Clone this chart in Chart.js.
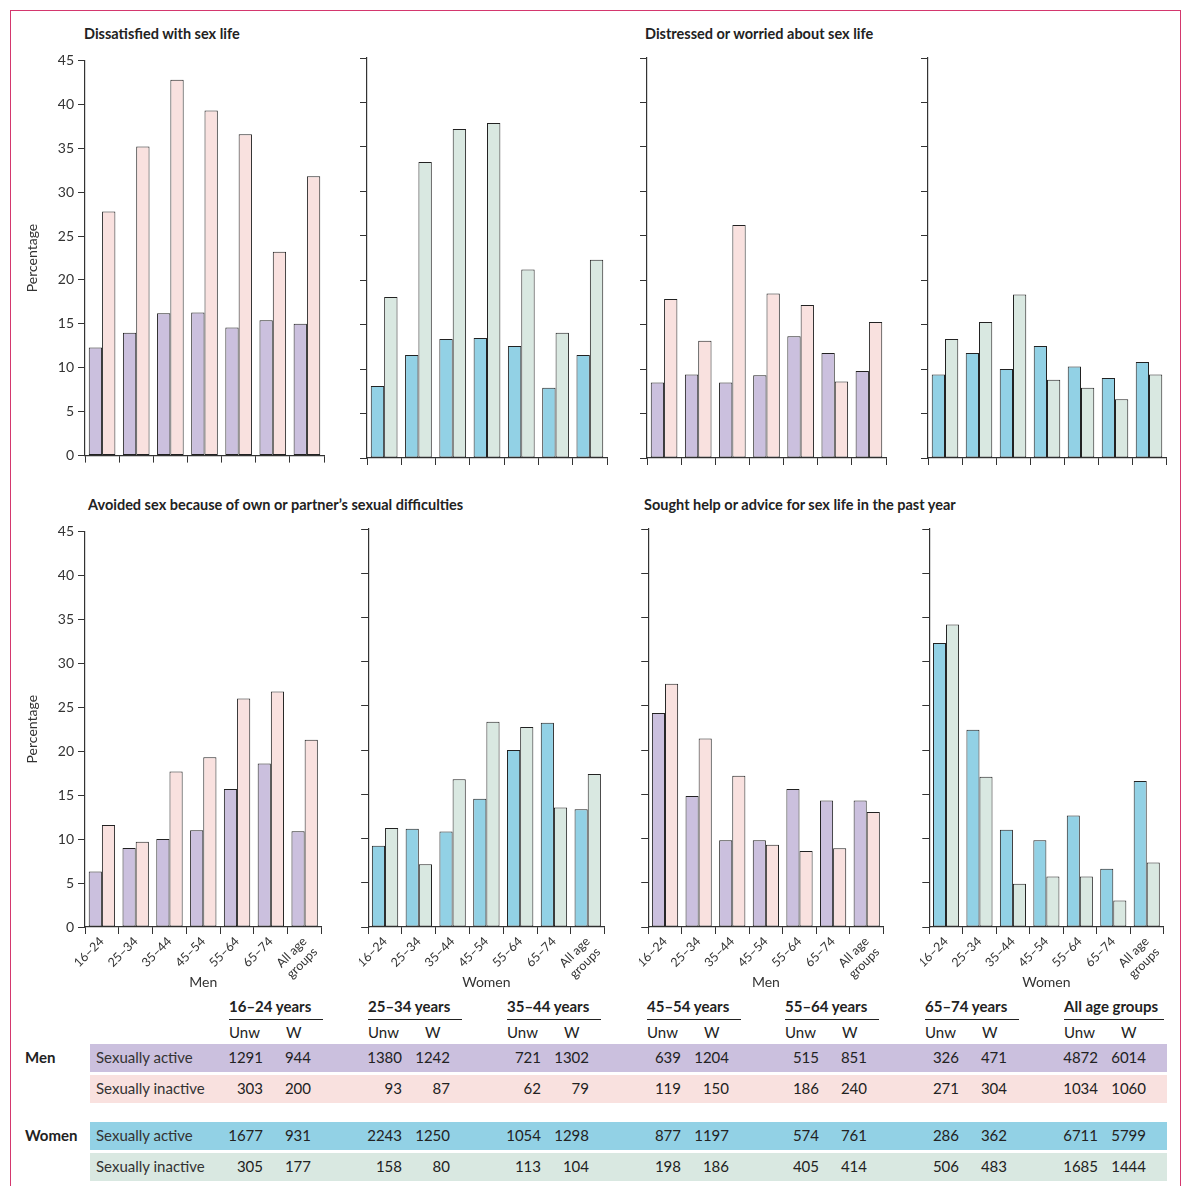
<!DOCTYPE html>
<html><head><meta charset="utf-8">
<script src="https://cdn.jsdelivr.net/npm/chart.js@4/dist/chart.umd.min.js"></script>
<style>
body{margin:0;background:#fff;font-family:Lato,"Open Sans",sans-serif;color:#222}
#frame{position:absolute;left:10px;top:10px;width:1171px;height:1190px;border:1px solid #d4376e;box-sizing:border-box}
.c{position:absolute}
.t{position:absolute;font-weight:bold;font-size:14.5px;white-space:nowrap}
.tb{position:absolute;font-size:15px;white-space:nowrap}
.band{position:absolute;left:90px;width:1077px;height:28px}
</style></head><body>
<div id="frame"></div>
<div id="root"></div>
<script>
const categories=["16–24","25–34","35–44","45–54","55–64","65–74",["All age","groups"]];
const dissMenActive=[12.3,14.0,16.2,16.3,14.6,15.4,15.0];
const dissMenInactive=[27.8,35.2,42.8,39.3,36.6,23.2,31.8];
const dissWomenActive=[8.1,11.6,13.4,13.5,12.6,7.9,11.6];
const dissWomenInactive=[18.1,33.3,37.0,37.7,21.2,14.1,22.3];
const distMenActive=[8.5,9.4,8.5,9.3,13.7,11.8,9.8];
const distMenInactive=[17.9,13.2,26.2,18.5,17.2,8.6,15.3];
const distWomenActive=[9.4,11.8,10.0,12.6,10.3,9.0,10.8];
const distWomenInactive=[13.4,15.3,18.4,8.8,7.9,6.6,9.4];
const avoidMenActive=[6.3,9.0,10.0,11.0,15.7,18.6,10.9];
const avoidMenInactive=[11.6,9.7,17.7,19.3,26.0,26.8,21.3];
const avoidWomenActive=[9.2,11.1,10.8,14.5,20.0,23.1,13.3];
const avoidWomenInactive=[11.2,7.1,16.7,23.2,22.6,13.5,17.3];
const helpMenActive=[24.2,14.8,9.8,9.8,15.6,14.3,14.3];
const helpMenInactive=[27.5,21.3,17.1,9.3,8.6,8.9,13.0];
const helpWomenActive=[32.1,22.3,11.0,9.8,12.6,6.6,16.5];
const helpWomenInactive=[34.2,17.0,4.9,5.7,5.7,3.0,7.3];
const yTicks=[0,5,10,15,20,25,30,35,40,45];
const groups=["16–24 years","25–34 years","35–44 years","45–54 years","55–64 years","65–74 years","All age groups"];
const menActiveUnw=[1291,1380,721,639,515,326,4872], menActiveW=[944,1242,1302,1204,851,471,6014];
const menInactiveUnw=[303,93,62,119,186,271,1034], menInactiveW=[200,87,79,150,240,304,1060];
const womenActiveUnw=[1677,2243,1054,877,574,286,6711], womenActiveW=[931,1250,1298,1197,761,362,5799];
const womenInactiveUnw=[305,158,113,198,405,506,1685], womenInactiveW=[177,80,104,186,414,483,1444];

const C={purple:"#cbc0de",pink:"#f9e1df",blue:"#92d1e5",green:"#d9e8e1"};
const root=document.getElementById('root');
function el(tag,cls,style,html){const e=document.createElement(tag);if(cls)e.className=cls;Object.assign(e.style,style);if(html!==undefined)e.innerHTML=html;root.appendChild(e);return e;}

function panel(left,top,width,bottomRow,a,b,ca,cb,labels,xtitle){
  const xh=bottomRow?68:10, yw=labels?65:8;
  const h=10+(bottomRow?398:400)+xh;
  const d=el('div','c',{left:left+'px',top:top+'px',width:width+'px',height:h+'px'});
  const cv=document.createElement('canvas');d.appendChild(cv);
  new Chart(cv,{type:'bar',data:{labels:categories,datasets:[
    {data:a,backgroundColor:ca,borderColor:'#222',borderWidth:1},
    {data:b,backgroundColor:cb,borderColor:'#222',borderWidth:1}]},
  options:{responsive:true,maintainAspectRatio:false,animation:false,
   layout:{padding:{top:10,right:2,left:0,bottom:0}},
   plugins:{legend:{display:false},tooltip:{enabled:false}},
   datasets:{bar:{categoryPercentage:0.78,barPercentage:1,borderSkipped:false}},
   scales:{
    x:{afterFit:s=>{s.height=xh},border:{color:'#333',width:1.2},
       grid:{display:true,drawOnChartArea:false,offset:true,color:'#333',tickLength:7},
       ticks:{display:bottomRow,autoSkip:false,maxRotation:45,minRotation:45,color:'#333',font:{family:'Lato',size:12.5},padding:0},
       title:{display:bottomRow,text:xtitle,color:'#333',font:{family:'Lato',size:14},padding:{top:-4}}},
    y:{min:0,max:45,afterFit:s=>{s.width=yw},afterBuildTicks:s=>{s.ticks=yTicks.map(v=>({value:v}))},
       border:{color:'#333',width:1.2},
       grid:{drawOnChartArea:false,color:'#333',tickLength:7},
       ticks:{display:labels,color:'#333',font:{family:'Lato',size:14},padding:4},
       title:{display:labels,text:'Percentage',color:'#333',font:{family:'Lato',size:14},padding:{bottom:4}}}
   }}});
}
// top row
panel(20,48,306,false,dissMenActive,dissMenInactive,C.purple,C.pink,true);
panel(359,48,250,false,dissWomenActive,dissWomenInactive,C.blue,C.green,false);
panel(639,48,249,false,distMenActive,distMenInactive,C.purple,C.pink,false);
panel(920,48,248,false,distWomenActive,distWomenInactive,C.blue,C.green,false);
// bottom row
panel(20,519,306,true,avoidMenActive,avoidMenInactive,C.purple,C.pink,true,'Men');
panel(359,519,250,true,avoidWomenActive,avoidWomenInactive,C.blue,C.green,false,'Women');
panel(639,519,249,true,helpMenActive,helpMenInactive,C.purple,C.pink,false,'Men');
panel(920,519,248,true,helpWomenActive,helpWomenInactive,C.blue,C.green,false,'Women');

el('div','t',{left:'84px',top:'25px'},'Dissatisfied with sex life');
el('div','t',{left:'645px',top:'25px'},'Distressed or worried about sex life');
el('div','t',{left:'88px',top:'496px'},'Avoided sex because of own or partner’s sexual difficulties');
el('div','t',{left:'644px',top:'496px'},'Sought help or advice for sex life in the past year');

// table
const colX=[229,368,507,647,785,925,1064];
groups.forEach((g,i)=>{
  el('div','tb',{left:colX[i]+'px',top:'997px',fontWeight:'bold'},g);
  el('div','',{position:'absolute',left:colX[i]+'px',top:'1019px',width:(i==6?100:94)+'px',height:'1px',background:'#222'});
  el('div','tb',{left:colX[i]+'px',top:'1023px'},'Unw');
  el('div','tb',{left:(colX[i]+57)+'px',top:'1023px'},'W');
});
const rows=[
 [1044,C.purple,'Sexually active',menActiveUnw,menActiveW,'Men'],
 [1075,C.pink,'Sexually inactive',menInactiveUnw,menInactiveW,''],
 [1122,C.blue,'Sexually active',womenActiveUnw,womenActiveW,'Women'],
 [1153,C.green,'Sexually inactive',womenInactiveUnw,womenInactiveW,'']];
rows.forEach(([y,col,lab,u,w,sex])=>{
  el('div','band',{top:y+'px',background:col});
  if(sex) el('div','tb',{left:'25px',top:(y+4)+'px',fontWeight:'bold'},sex);
  el('div','tb',{left:'96px',top:(y+4)+'px',color:'#333'},lab);
  colX.forEach((x,i)=>{
    el('div','tb',{left:(x-40)+'px',width:'74px',textAlign:'right',top:(y+4)+'px'},u[i]);
    el('div','tb',{left:(x+8)+'px',width:'74px',textAlign:'right',top:(y+4)+'px'},w[i]);
  });
});
</script></body></html>
